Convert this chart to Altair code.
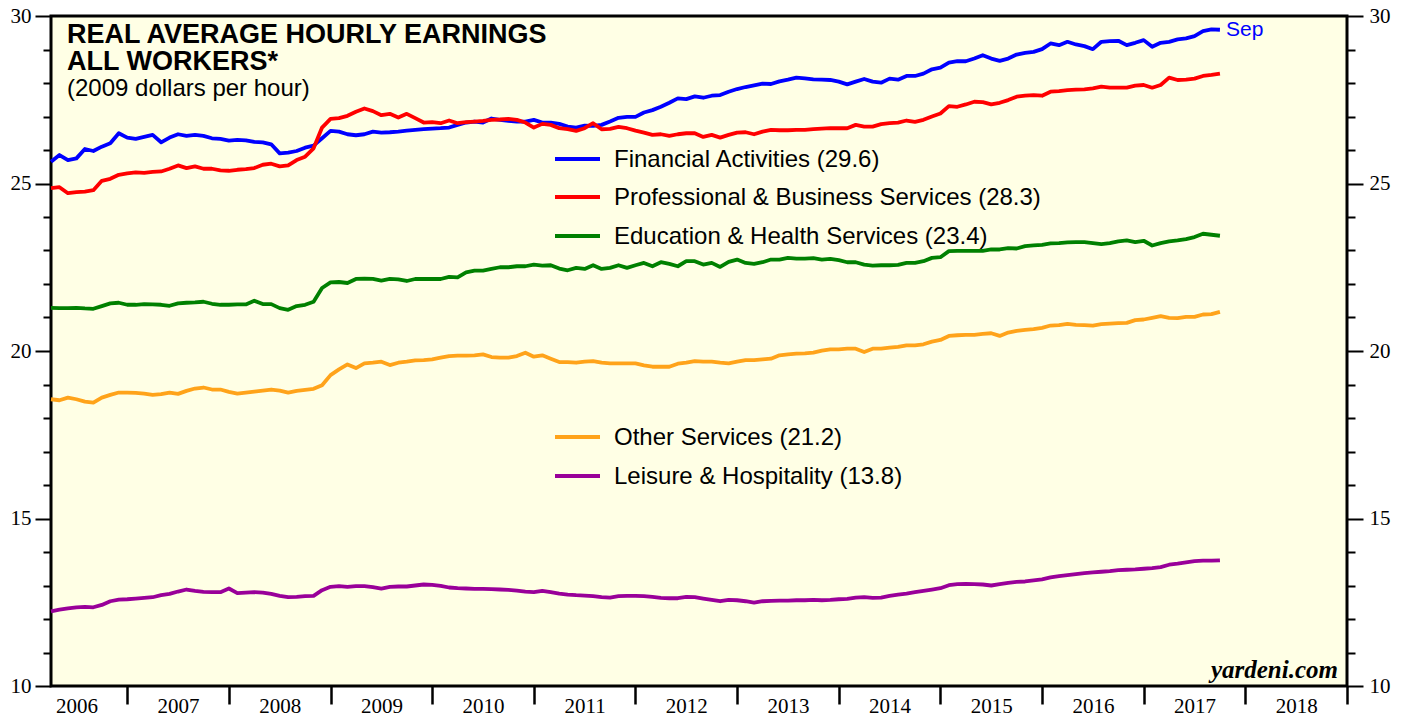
import altair as alt
import pandas as pd

# ---------------- data (monthly, Mar 2006 .. Sep 2017) ----------------
START_YEAR, START_MONTH = 2006, 3

financial = [25.65, 25.85, 25.70, 25.75, 26.03, 25.97, 26.10, 26.20, 26.50, 26.37,
             26.33, 26.39, 26.45, 26.23, 26.37, 26.47, 26.42, 26.45, 26.42, 26.35,
             26.33, 26.28, 26.30, 26.29, 26.24, 26.23, 26.17, 25.90, 25.92, 25.97,
             26.07, 26.13, 26.35, 26.57, 26.55, 26.47, 26.44, 26.47, 26.55, 26.52,
             26.53, 26.55, 26.58, 26.60, 26.62, 26.64, 26.65, 26.67, 26.75, 26.82,
             26.85, 26.82, 26.94, 26.90, 26.87, 26.85, 26.85, 26.90, 26.82, 26.82,
             26.78, 26.70, 26.67, 26.73, 26.72, 26.75, 26.85, 26.96, 26.99, 26.99,
             27.12, 27.19, 27.29, 27.41, 27.54, 27.52, 27.60, 27.56, 27.62, 27.64,
             27.74, 27.82, 27.88, 27.93, 27.98, 27.97, 28.05, 28.10, 28.16, 28.14,
             28.11, 28.10, 28.09, 28.04, 27.96, 28.04, 28.12, 28.04, 28.01, 28.13,
             28.10, 28.21, 28.21, 28.28, 28.41, 28.46, 28.61, 28.65, 28.65, 28.73,
             28.83, 28.73, 28.66, 28.73, 28.85, 28.90, 28.93, 29.01, 29.18, 29.13,
             29.23, 29.15, 29.10, 29.01, 29.23, 29.25, 29.26, 29.13, 29.20, 29.28,
             29.08, 29.20, 29.23, 29.30, 29.33, 29.40, 29.55, 29.60, 29.59]

professional = [24.86, 24.89, 24.71, 24.74, 24.76, 24.80, 25.08, 25.14, 25.26, 25.30,
                25.33, 25.32, 25.35, 25.36, 25.44, 25.54, 25.46, 25.51, 25.44, 25.44,
                25.39, 25.38, 25.41, 25.43, 25.46, 25.56, 25.59, 25.51, 25.54, 25.70,
                25.80, 26.05, 26.67, 26.93, 26.95, 27.02, 27.14, 27.24, 27.16, 27.04,
                27.08, 26.97, 27.08, 26.95, 26.82, 26.83, 26.80, 26.88, 26.80, 26.83,
                26.85, 26.87, 26.90, 26.91, 26.93, 26.90, 26.82, 26.67, 26.78, 26.75,
                26.65, 26.62, 26.57, 26.65, 26.80, 26.62, 26.63, 26.69, 26.65, 26.58,
                26.52, 26.45, 26.47, 26.42, 26.47, 26.50, 26.50, 26.39, 26.45, 26.37,
                26.45, 26.52, 26.53, 26.47, 26.55, 26.60, 26.59, 26.59, 26.60, 26.60,
                26.62, 26.64, 26.65, 26.65, 26.65, 26.75, 26.70, 26.70, 26.77, 26.80,
                26.82, 26.88, 26.84, 26.90, 27.00, 27.09, 27.31, 27.29, 27.36, 27.44,
                27.43, 27.36, 27.41, 27.49, 27.59, 27.62, 27.64, 27.62, 27.74, 27.76,
                27.79, 27.80, 27.81, 27.84, 27.89, 27.86, 27.86, 27.86, 27.92, 27.94,
                27.86, 27.94, 28.16, 28.09, 28.10, 28.13, 28.21, 28.24, 28.28]

education = [21.29, 21.28, 21.28, 21.29, 21.27, 21.26, 21.34, 21.42, 21.44, 21.38,
             21.38, 21.40, 21.39, 21.38, 21.35, 21.42, 21.44, 21.45, 21.47, 21.41,
             21.38, 21.38, 21.39, 21.39, 21.50, 21.40, 21.40, 21.28, 21.23, 21.34,
             21.38, 21.47, 21.88, 22.05, 22.06, 22.03, 22.15, 22.16, 22.15, 22.10,
             22.15, 22.14, 22.09, 22.15, 22.15, 22.15, 22.15, 22.21, 22.20, 22.35,
             22.40, 22.40, 22.45, 22.50, 22.50, 22.53, 22.53, 22.58, 22.55, 22.56,
             22.46, 22.41, 22.48, 22.45, 22.56, 22.45, 22.48, 22.56, 22.48, 22.56,
             22.63, 22.53, 22.65, 22.60, 22.53, 22.68, 22.68, 22.58, 22.63, 22.51,
             22.66, 22.73, 22.63, 22.60, 22.65, 22.73, 22.73, 22.78, 22.76, 22.76,
             22.77, 22.73, 22.75, 22.71, 22.65, 22.65, 22.58, 22.55, 22.56, 22.56,
             22.57, 22.63, 22.63, 22.68, 22.78, 22.80, 22.98, 22.99, 22.99, 22.99,
             22.99, 23.03, 23.03, 23.07, 23.06, 23.13, 23.15, 23.17, 23.21, 23.22,
             23.24, 23.25, 23.25, 23.22, 23.19, 23.22, 23.27, 23.30, 23.25, 23.29,
             23.15, 23.22, 23.27, 23.30, 23.34, 23.40, 23.50, 23.47, 23.44]

other = [18.56, 18.53, 18.61, 18.56, 18.49, 18.46, 18.61, 18.69, 18.76, 18.76,
         18.75, 18.73, 18.69, 18.71, 18.76, 18.72, 18.81, 18.88, 18.91, 18.85,
         18.85, 18.78, 18.73, 18.76, 18.79, 18.82, 18.85, 18.82, 18.76, 18.81,
         18.84, 18.87, 18.98, 19.28, 19.45, 19.60, 19.49, 19.63, 19.65, 19.68,
         19.58, 19.65, 19.68, 19.72, 19.73, 19.75, 19.80, 19.85, 19.86, 19.86,
         19.87, 19.90, 19.82, 19.80, 19.80, 19.85, 19.95, 19.83, 19.87, 19.77,
         19.67, 19.67, 19.65, 19.68, 19.70, 19.65, 19.63, 19.63, 19.63, 19.63,
         19.57, 19.53, 19.53, 19.53, 19.62, 19.65, 19.70, 19.68, 19.68, 19.65,
         19.63, 19.68, 19.73, 19.73, 19.75, 19.77, 19.87, 19.90, 19.92, 19.93,
         19.95, 20.01, 20.05, 20.05, 20.07, 20.07, 19.97, 20.07, 20.07, 20.10,
         20.12, 20.17, 20.17, 20.20, 20.28, 20.33, 20.45, 20.47, 20.48, 20.48,
         20.51, 20.53, 20.45, 20.55, 20.60, 20.63, 20.65, 20.69, 20.76, 20.77,
         20.81, 20.78, 20.77, 20.76, 20.80, 20.82, 20.83, 20.84, 20.92, 20.94,
         20.99, 21.04, 20.99, 20.98, 21.02, 21.02, 21.09, 21.10, 21.17]

leisure = [12.23, 12.28, 12.32, 12.35, 12.36, 12.35, 12.42, 12.53, 12.58, 12.59,
           12.61, 12.63, 12.65, 12.71, 12.75, 12.82, 12.88, 12.84, 12.81, 12.80,
           12.80, 12.91, 12.77, 12.79, 12.80, 12.79, 12.75, 12.69, 12.65, 12.66,
           12.68, 12.69, 12.86, 12.96, 12.98, 12.96, 12.98, 12.98, 12.95, 12.91,
           12.96, 12.97, 12.97, 13.00, 13.03, 13.02, 12.99, 12.94, 12.92, 12.91,
           12.90, 12.90, 12.89, 12.88, 12.87, 12.85, 12.82, 12.80, 12.84, 12.80,
           12.76, 12.73, 12.71, 12.70, 12.68, 12.65, 12.64, 12.68, 12.69, 12.69,
           12.68, 12.66, 12.63, 12.62, 12.62, 12.66, 12.65, 12.61, 12.57, 12.53,
           12.57, 12.56, 12.53, 12.49, 12.53, 12.54, 12.55, 12.55, 12.56, 12.56,
           12.57, 12.56, 12.57, 12.59, 12.60, 12.64, 12.65, 12.63, 12.64, 12.69,
           12.73, 12.76, 12.80, 12.84, 12.88, 12.92, 13.01, 13.04, 13.05, 13.04,
           13.03, 13.00, 13.04, 13.08, 13.11, 13.12, 13.15, 13.18, 13.24, 13.28,
           13.31, 13.34, 13.37, 13.39, 13.41, 13.43, 13.46, 13.47, 13.48, 13.50,
           13.52, 13.55, 13.62, 13.65, 13.69, 13.73, 13.74, 13.74, 13.75]

series_names = ["Financial Activities", "Professional & Business Services",
                "Education & Health Services", "Other Services", "Leisure & Hospitality"]
series_values = [financial, professional, education, other, leisure]
legend_labels = ["Financial Activities (29.6)", "Professional & Business Services (28.3)",
                 "Education & Health Services (23.4)", "Other Services (21.2)",
                 "Leisure & Hospitality (13.8)"]
series_colors = ["#0000FF", "#FF0000", "#008000", "#FFA31A", "#990099"]
last_month_label = "Sep"
year_boundaries = list(range(2007, 2020))
y_values = list(range(10, 31))

title_lines = ["REAL AVERAGE HOURLY EARNINGS", "ALL WORKERS*"]
subtitle = "(2009 dollars per hour)"
credit = "yardeni.com"

# month-end positions as decimal years
n = len(financial)
t_vals = [START_YEAR + (START_MONTH + k) / 12 for k in range(n)]

# ---------------- layout / style ----------------
W, H = 1296, 670
SANS = "Liberation Sans"
SERIF = "Liberation Serif"
LW = 3.8
TOP = 8  # plot top inside the svg

xscale = alt.Scale(domain=[2006.25, 2019.0], nice=False, zero=False)
yscale = alt.Scale(domain=[10, 30], nice=False, zero=False)

tick_cond = {"condition": {"test": "datum.value % 5 === 0", "value": 16}, "value": 8}

xaxis = alt.Axis(values=year_boundaries, labelExpr="'' + (datum.value - 1)",
                 labelOffset=-50.8, tickSize=18, tickWidth=2.5, tickColor="black",
                 domain=False, grid=False, labelFont=SERIF, labelFontSize=21,
                 labelColor="black", labelPadding=-9, labelFlush=False,
                 labelOverlap=False, labelBound=False, title=None)


def yaxis(orient, pad):
    return alt.Axis(orient=orient, values=y_values,
                    labelExpr="datum.value % 5 === 0 ? datum.label : ''",
                    tickSize=tick_cond, tickWidth=2, tickColor="black",
                    domain=False, grid=False, labelFont=SERIF, labelFontSize=21,
                    labelColor="black", labelPadding=pad, labelOverlap=False,
                    labelFlush=False, title=None)


X = alt.X("t:Q", scale=xscale, axis=xaxis)

layers = []
for i, (name, vals, col) in enumerate(zip(series_names, series_values, series_colors)):
    d = pd.DataFrame({"t": t_vals, "v": vals, "s": name})
    layers.append(
        alt.Chart(d).mark_line(color=col, strokeWidth=LW, strokeJoin="round").encode(
            x=X,
            y=alt.Y("v:Q", scale=yscale, axis=yaxis("left", 4) if i == 0 else None),
        )
    )

# "Sep" label at the end of the blue line (also carries the right axis)
sep_df = pd.DataFrame({"t": [t_vals[-1]], "v": [financial[-1]], "lab": [last_month_label]})
layers.append(
    alt.Chart(sep_df).mark_text(align="left", baseline="middle", dx=6, dy=0,
                                font=SANS, fontSize=21, color=series_colors[0]).encode(
        x=X,
        y=alt.Y("v:Q", scale=yscale, axis=yaxis("right", 6)),
        text="lab:N",
    )
)

one = pd.DataFrame({"k": [0]})

# legend (manual, like the original)
legend_y = [143, 181, 220, 421, 460]
for lab, col, ly in zip(legend_labels, series_colors, legend_y):
    layers.append(alt.Chart(one).mark_rule(color=col, strokeWidth=LW).encode(
        x=alt.value(504), x2=alt.value(549), y=alt.value(ly)))
    layers.append(alt.Chart(one).mark_text(align="left", baseline="middle", font=SANS,
                                           fontSize=24, color="black").encode(
        x=alt.value(563), y=alt.value(ly + 1), text=alt.value(lab)))

# titles
for txt, ty in zip(title_lines, [27, 54]):
    layers.append(alt.Chart(one).mark_text(align="left", baseline="alphabetic", font=SANS,
                                           fontSize=27, fontWeight="bold", color="black").encode(
        x=alt.value(16), y=alt.value(ty), text=alt.value(txt)))
layers.append(alt.Chart(one).mark_text(align="left", baseline="alphabetic", font=SANS,
                                       fontSize=24, color="black").encode(
    x=alt.value(16), y=alt.value(80), text=alt.value(subtitle)))

# credit
layers.append(alt.Chart(one).mark_text(align="right", baseline="alphabetic", font=SERIF,
                                       fontSize=25, fontWeight="bold", fontStyle="italic",
                                       color="black").encode(
    x=alt.value(1287), y=alt.value(662), text=alt.value(credit)))

chart = alt.layer(*layers).resolve_axis(y="independent").properties(
    width=W, height=H,
    padding={"left": 43, "top": TOP, "right": 48, "bottom": 34},
    autosize=alt.AutoSizeParams(type="none"),
    background="white",
).configure_view(stroke="black", strokeWidth=3, fill="#FFFFE5")

chart.save("out.html", embed_options={"renderer": "svg", "actions": False})
